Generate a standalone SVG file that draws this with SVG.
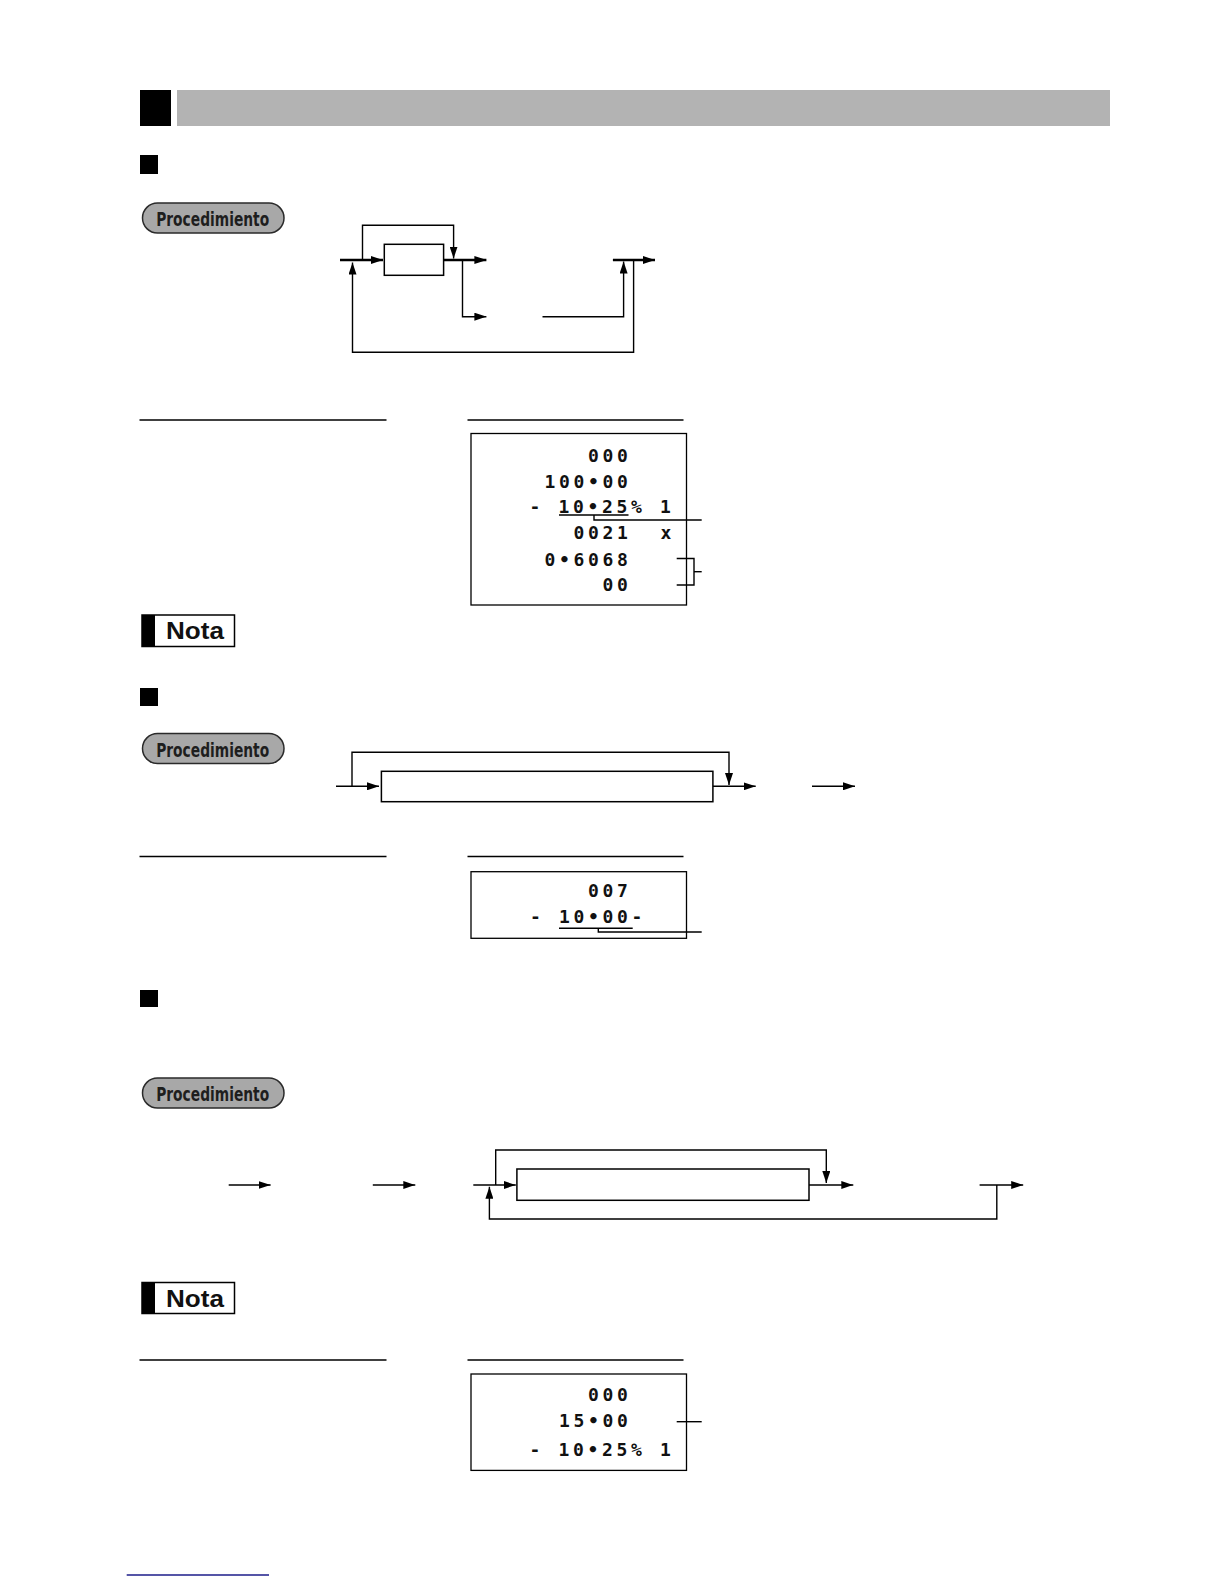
<svg xmlns="http://www.w3.org/2000/svg" width="1224" height="1584" viewBox="0 0 1224 1584">
<style>
.bg{fill:#ffffff}
.blk{fill:#000000}
.bar{fill:#b3b3b3}
.pill{fill:#a8a8a8;stroke:#2a2a2a;stroke-width:1.5}
.pilltxt{font-family:"Liberation Sans Narrow","DejaVu Sans Condensed","Liberation Sans",sans-serif;font-weight:bold;font-size:20px;fill:#1e1e1e}
.nota{fill:#ffffff;stroke:#000000;stroke-width:1.5}
.notatxt{font-family:"Liberation Sans","DejaVu Sans",sans-serif;font-weight:bold;font-size:23px;fill:#111111}
.hr{stroke:#000000;stroke-width:1.3;fill:none}
.box{fill:#ffffff;stroke:#000000;stroke-width:1.5}
.disp{fill:#ffffff;stroke:#000000;stroke-width:1.3}
.dtxt{font-family:"DejaVu Sans Mono","Liberation Mono",monospace;font-weight:bold;font-size:18px;letter-spacing:3.66px;fill:#111111;white-space:pre}
.ln{stroke:#000000;stroke-width:1.4;fill:none}
.thick{stroke:#000000;stroke-width:2.4;fill:none}
</style>
<defs>
<marker id="ah" viewBox="0 0 12 8" refX="12" refY="4" markerWidth="12" markerHeight="8" orient="auto" markerUnits="userSpaceOnUse">
<path d="M0,0 L12,4 L0,8 Z" fill="#000000"/>
</marker>
</defs>
<rect class="bg" x="0" y="0" width="1224" height="1584"/>

<!-- header -->
<g id="header">
<rect class="blk" x="140" y="90" width="31" height="36"/>
<rect class="bar" x="177" y="90" width="933" height="36"/>
</g>

<!-- section markers -->
<g id="sec1-marker"><rect class="blk" x="140" y="155" width="18" height="19"/></g>
<g id="sec2-marker"><rect class="blk" x="140" y="688" width="18" height="18"/></g>
<g id="sec3-marker"><rect class="blk" x="140" y="990" width="18" height="17"/></g>

<!-- Procedimiento pills -->
<g id="proc1">
<rect class="pill" x="142.5" y="203" width="141.5" height="30" rx="15"/>
<text class="pilltxt" x="212.7" y="226" text-anchor="middle" textLength="113" lengthAdjust="spacingAndGlyphs">Procedimiento</text>
</g>
<g id="proc2">
<rect class="pill" x="142.5" y="733.5" width="141.5" height="30" rx="15"/>
<text class="pilltxt" x="212.7" y="756.5" text-anchor="middle" textLength="113" lengthAdjust="spacingAndGlyphs">Procedimiento</text>
</g>
<g id="proc3">
<rect class="pill" x="142.5" y="1078" width="141.5" height="30" rx="15"/>
<text class="pilltxt" x="212.7" y="1101" text-anchor="middle" textLength="113" lengthAdjust="spacingAndGlyphs">Procedimiento</text>
</g>

<!-- Nota labels -->
<g id="nota1">
<rect class="nota" x="142" y="615" width="92.5" height="31.5"/>
<rect class="blk" x="142" y="615" width="13" height="31.5"/>
<text class="notatxt" x="166" y="639" textLength="58" lengthAdjust="spacingAndGlyphs">Nota</text>
</g>
<g id="nota2">
<rect class="nota" x="142" y="1282.5" width="92.5" height="31"/>
<rect class="blk" x="142" y="1282.5" width="13" height="31"/>
<text class="notatxt" x="166" y="1306.5" textLength="58" lengthAdjust="spacingAndGlyphs">Nota</text>
</g>

<!-- header rules -->
<g id="rules">
<line class="hr" x1="139.5" y1="420" x2="386.5" y2="420"/>
<line class="hr" x1="467.5" y1="420" x2="683.5" y2="420"/>
<line class="hr" x1="139.5" y1="856.5" x2="386.5" y2="856.5"/>
<line class="hr" x1="467.5" y1="856.5" x2="683.5" y2="856.5"/>
<line class="hr" x1="139.5" y1="1360" x2="386.5" y2="1360"/>
<line class="hr" x1="467.5" y1="1360" x2="683.5" y2="1360"/>
</g>

<!-- flow boxes -->
<g id="box1"><rect class="box" x="384.3" y="244.3" width="59.3" height="31"/></g>
<g id="box2"><rect class="box" x="381.4" y="771.3" width="331.5" height="30.4"/></g>
<g id="box3"><rect class="box" x="516.9" y="1169" width="292.1" height="31.3"/></g>

<!-- connectors -->
<g id="connectors">
<!-- diagram 1 -->
<line class="thick" x1="340" y1="260" x2="383" y2="260" marker-end="url(#ah)"/>
<polyline class="ln" points="362.5,260 362.5,225.3 453.6,225.3 453.6,258.5" marker-end="url(#ah)"/>
<line class="thick" x1="443.6" y1="260" x2="486.4" y2="260" marker-end="url(#ah)"/>
<polyline class="ln" points="462.5,260 462.5,316.7 486.4,316.7" marker-end="url(#ah)"/>
<polyline class="ln" points="542.5,316.7 623.6,316.7 623.6,261.5" marker-end="url(#ah)"/>
<line class="thick" x1="612.9" y1="260" x2="655" y2="260" marker-end="url(#ah)"/>
<polyline class="ln" points="633.6,260 633.6,352.3 352.5,352.3 352.5,262.5" marker-end="url(#ah)"/>
<!-- diagram 2 -->
<line class="ln" x1="336" y1="786.3" x2="379" y2="786.3" marker-end="url(#ah)"/>
<polyline class="ln" points="352,786.3 352,752.3 729,752.3 729,785" marker-end="url(#ah)"/>
<line class="ln" x1="712.9" y1="786.3" x2="755.7" y2="786.3" marker-end="url(#ah)"/>
<line class="ln" x1="812" y1="786.3" x2="855" y2="786.3" marker-end="url(#ah)"/>
<!-- diagram 3 -->
<line class="ln" x1="228.7" y1="1185" x2="270.6" y2="1185" marker-end="url(#ah)"/>
<line class="ln" x1="372.8" y1="1185" x2="415.3" y2="1185" marker-end="url(#ah)"/>
<line class="ln" x1="473.3" y1="1185" x2="515.8" y2="1185" marker-end="url(#ah)"/>
<polyline class="ln" points="495.7,1185 495.7,1150 826.3,1150 826.3,1183" marker-end="url(#ah)"/>
<line class="ln" x1="809" y1="1185" x2="853.3" y2="1185" marker-end="url(#ah)"/>
<line class="ln" x1="979.6" y1="1185" x2="1023.2" y2="1185" marker-end="url(#ah)"/>
<polyline class="ln" points="996.8,1185 996.8,1219 489.4,1219 489.4,1186.8" marker-end="url(#ah)"/>
</g>

<!-- display 1 -->
<g id="display1">
<rect class="disp" x="471" y="433.5" width="215.5" height="171.5"/>
<text class="dtxt" x="588.1" y="461.5">000</text>
<text class="dtxt" x="544.6" y="488">100•00</text>
<text class="dtxt" x="529.5" y="512.5">- 10•25% 1</text>
<line class="ln" x1="559" y1="515" x2="628.5" y2="515"/>
<polyline class="ln" points="594,515 594,520 701.7,520"/>
<text class="dtxt" x="573.6" y="538.5" xml:space="preserve">0021  x</text>
<text class="dtxt" x="544.6" y="566">0•6068</text>
<text class="dtxt" x="602.6" y="591">00</text>
<polyline class="ln" points="676.7,558.5 694,558.5 694,585 676.7,585"/>
<line class="ln" x1="694" y1="571.7" x2="701.7" y2="571.7"/>
</g>

<!-- display 2 -->
<g id="display2">
<rect class="disp" x="471" y="871.7" width="215.5" height="66.6"/>
<text class="dtxt" x="588.1" y="896.7">007</text>
<text class="dtxt" x="530.1" y="923">- 10•00-</text>
<line class="ln" x1="559" y1="928.3" x2="632.7" y2="928.3"/>
<polyline class="ln" points="598.3,928.3 598.3,932 701.7,932"/>
</g>

<!-- display 3 -->
<g id="display3">
<rect class="disp" x="471" y="1374" width="215.5" height="96.4"/>
<text class="dtxt" x="588.1" y="1400.7">000</text>
<text class="dtxt" x="559.1" y="1427.3">15•00</text>
<text class="dtxt" x="529.5" y="1456">- 10•25% 1</text>
<line class="ln" x1="676.7" y1="1421.7" x2="701.7" y2="1421.7"/>
</g>

<!-- footer rule -->
<g id="footer">
<line x1="126.7" y1="1575" x2="269" y2="1575" stroke="#1c1c8a" stroke-width="1.5"/>
</g>
</svg>
